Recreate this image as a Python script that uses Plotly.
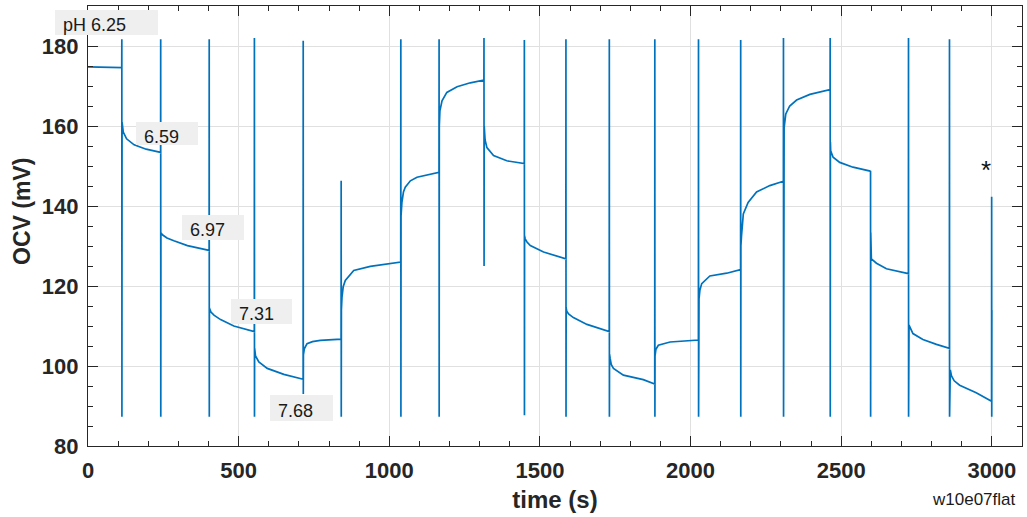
import plotly.graph_objects as go

# ---------------- data ----------------
# times (s) at which the pH was switched
switch_t = [112, 241, 402, 552, 714, 840, 1038, 1165, 1314, 1448, 1586,
            1730, 1881, 2026, 2166, 2308, 2463, 2597, 2723, 2859, 2999]
# extremes of the switching transients (mV)
spike_hi = [181.7, 181.7, 181.7, 182.0, 181.3, 146.3, 181.7, 181.7, 182.0, 181.5, 181.7,
            181.7, 181.7, 181.7, 181.5, 182.0, 182.0, 148.8, 182.0, 181.7, 142.3]
spike_lo = [87.3, 87.3, 87.3, 87.3, 93.0, 87.3, 87.3, 87.3, 125.0, 87.7, 87.3,
            87.3, 87.3, 87.3, 87.3, 87.3, 87.3, 87.3, 87.3, 87.3, 87.3]

# OCV relaxation within each segment: seconds since segment start / OCV (mV)
seg_dt = [
    [0, 40, 80, 112],
    [0, 4, 15, 40, 80, 128],
    [0, 5, 20, 43, 88, 160],
    [0, 5, 15, 37, 81, 149],
    [0, 3, 14, 42, 97, 161],
    [0, 3, 12, 30, 56, 125],
    [0, 2, 6, 13, 41, 96, 197],
    [0, 3, 8, 14, 31, 53, 97, 126],
    [0, 2, 9, 25, 59, 103, 148],
    [0, 3, 9, 31, 75, 133],
    [0, 2, 8, 19, 63, 137],
    [0, 2, 8, 24, 69, 143],
    [0, 2, 6, 13, 46, 112, 150],
    [0, 3, 11, 50, 144],
    [0, 1, 4, 10, 37, 93, 139],
    [0, 2, 5, 8, 24, 52, 96, 141],
    [0, 1.5, 7, 20, 43, 87, 154],
    [0, 1, 9, 31, 75, 133],
    [0, 1, 2, 19, 52, 125],
    [0, 1, 14, 47, 92, 135],
    [0, 2, 6, 15, 33, 88, 139],
    [0],
]
seg_mv = [
    [174.8, 174.7, 174.7, 174.6],
    [161.0, 158.5, 156.8, 155.3, 154.2, 153.4],
    [133.3, 132.8, 132.0, 131.3, 130.1, 128.9],
    [114.5, 113.5, 112.7, 111.6, 110.0, 108.6],
    [104.5, 102.5, 101.0, 99.4, 97.9, 96.7],
    [102.8, 104.3, 105.6, 106.1, 106.4, 106.7],
    [114.0, 117.2, 119.8, 121.4, 123.9, 124.9, 126.0],
    [137.5, 141.0, 143.5, 144.7, 146.3, 147.2, 148.0, 148.4],
    [160.0, 163.8, 166.3, 168.4, 169.8, 170.8, 171.5],
    [160.0, 156.5, 154.6, 152.6, 151.3, 150.6],
    [132.5, 131.8, 131.0, 130.1, 128.5, 126.8],
    [114.5, 113.7, 113.0, 112.1, 110.4, 108.6],
    [103.0, 101.9, 100.3, 99.4, 97.7, 96.6, 95.5],
    [102.5, 104.2, 105.2, 106.0, 106.5],
    [115.5, 116.8, 119.0, 120.6, 122.5, 123.2, 124.1],
    [130.0, 132.5, 136.0, 138.0, 140.9, 143.5, 145.1, 146.2],
    [150.0, 159.6, 163.0, 165.0, 166.5, 167.9, 169.1],
    [156.0, 153.8, 152.2, 150.9, 149.7, 148.7],
    [133.4, 128.5, 126.8, 125.7, 124.3, 123.1],
    [111.0, 110.2, 108.1, 106.6, 105.4, 104.4],
    [101.0, 99.0, 97.5, 96.3, 95.2, 93.3, 91.2],
    [114.0],
]

ph_labels = ["pH 6.25", "6.59", "6.97", "7.31", "7.68"]
file_tag = "w10e07flat"

# ---------------- build the trace ----------------
t_all, v_all = [], []
for k, (dts, mvs) in enumerate(zip(seg_dt, seg_mv)):
    start = 0 if k == 0 else switch_t[k - 1] + 1
    for dt, mv in zip(dts, mvs):
        t_all.append(start + dt)
        v_all.append(mv)
    if k < len(switch_t):
        t_all += [switch_t[k] + 0.3, switch_t[k] + 0.6]
        v_all += [spike_hi[k], spike_lo[k]]

fig = go.Figure()
fig.add_trace(go.Scatter(x=t_all, y=v_all, mode="lines",
                         line=dict(color="#0072BD", width=1.7),
                         showlegend=False, hoverinfo="x+y"))

FONT = "Liberation Sans"
axis_col = "#262626"
common = dict(showline=True, linecolor=axis_col, linewidth=1.4, mirror="allticks",
              ticks="inside", ticklen=10, tickwidth=1.3, tickcolor=axis_col,
              showgrid=True, gridcolor="#e0e0e0", gridwidth=1, zeroline=False,
              tickfont=dict(family=FONT, size=22, color=axis_col, weight="bold"))

fig.update_xaxes(range=[0, 3100], tick0=0, dtick=500,
                 minor=dict(dtick=100, ticks="inside", ticklen=5, tickcolor=axis_col,
                            tickwidth=1.2, showgrid=False),
                 ticklabelstandoff=4,
                 title=dict(text="time (s)", standoff=9,
                            font=dict(family=FONT, size=24, color=axis_col, weight="bold")),
                 **common)
fig.update_yaxes(range=[80, 190], tick0=80, dtick=20,
                 minor=dict(dtick=5, ticks="inside", ticklen=5, tickcolor=axis_col,
                            tickwidth=1.2, showgrid=False),
                 ticklabelstandoff=4,
                 **common)

annotations = []
# y-axis title
annotations.append(dict(xref="paper", yref="paper", x=-0.0707, y=0.534,
                        text="OCV (mV)", textangle=-90, showarrow=False,
                        xanchor="center", yanchor="middle",
                        font=dict(family=FONT, size=23, color=axis_col, weight="bold")))
# pH labels: box + text (first one sits outside the axes, so it uses paper coords)
label_pos = [("paper", -0.0353, 0.9625, 103, 25), ("x", 160.8, 158.1, 62, 23),
             ("x", 312, 134.7, 62, 25), ("x", 474.6, 113.7, 61, 25), ("x", 605, 89.5, 63, 26)]
for txt, (ref, lx, ly, bw, bh) in zip(ph_labels, label_pos):
    yref = "paper" if ref == "paper" else "y"
    annotations.append(dict(x=lx, y=ly, xref=ref, yref=yref, text="\u00a0",
                            showarrow=False, xanchor="left", yanchor="middle",
                            width=bw, height=bh, borderpad=0, borderwidth=0,
                            bgcolor="#efefef", font=dict(size=4)))
    annotations.append(dict(x=lx, y=ly, xref=ref, yref=yref, text=txt,
                            showarrow=False, xanchor="left", yanchor="middle",
                            xshift=6, yshift=-3,
                            font=dict(family=FONT, size=18, color="#1a1a1a")))
# asterisk marking the last switch
annotations.append(dict(x=2980, y=149.0, xref="x", yref="y", text="*",
                        showarrow=False, xanchor="center", yanchor="middle",
                        font=dict(family=FONT, size=26, color="#111111")))
# file tag
annotations.append(dict(xref="paper", yref="paper", x=0.9957, y=-0.1227,
                        text=file_tag, showarrow=False, xanchor="right", yanchor="middle",
                        font=dict(family=FONT, size=17, color="#1a1a1a")))

fig.update_layout(width=1027, height=517,
                  margin=dict(l=88, r=5, t=6, b=71, autoexpand=False),
                  plot_bgcolor="white", paper_bgcolor="white",
                  annotations=annotations)

fig.write_html("out.html", config={"displayModeBar": False},
               post_script="document.body.style.margin='0';document.body.style.overflow='hidden';")
